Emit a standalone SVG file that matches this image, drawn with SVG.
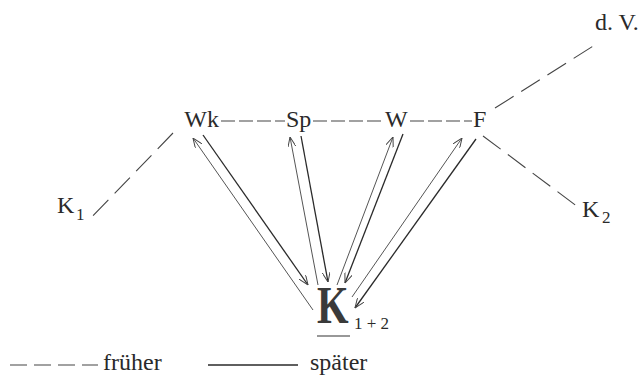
<svg xmlns="http://www.w3.org/2000/svg" width="643" height="376" viewBox="0 0 643 376">
<style>
text{font-family:"Liberation Serif","Times New Roman",serif;fill:#2a2a2a}
.lbl{font-size:24px}
.sub{font-size:17px}
.dash{stroke:#444;stroke-width:1.1;fill:none;stroke-dasharray:14 4}
.dashd{stroke:#444;stroke-width:1.1;fill:none;stroke-dasharray:22 9}
.sol{stroke:#2a2a2a;stroke-width:1.3;fill:none}
.thin{stroke:#555;stroke-width:1;fill:none}
</style>
<defs>
<marker id="ah" viewBox="0 0 10 8" refX="10" refY="4" markerWidth="10" markerHeight="8" markerUnits="userSpaceOnUse" orient="auto">
<path d="M0,0 L10,4 L0,8" fill="none" stroke="#444" stroke-width="1"/>
</marker>
</defs>
<rect width="643" height="376" fill="#ffffff"/>
<g id="connectors">
<line class="dash" x1="221" y1="121" x2="285" y2="121"/>
<line class="dash" x1="313" y1="121" x2="385" y2="121"/>
<line class="dash" x1="410" y1="121" x2="472" y2="121"/>
<line class="dashd" x1="495" y1="108" x2="598" y2="43"/>
<line class="dashd" x1="483" y1="136" x2="578" y2="207"/>
<line class="dashd" x1="173" y1="133" x2="87" y2="222"/>
<line class="thin" x1="313" y1="310" x2="193" y2="138" marker-end="url(#ah)"/>
<line class="sol" x1="203" y1="135" x2="308" y2="285" marker-end="url(#ah)"/>
<line class="thin" x1="318" y1="285" x2="290" y2="137" marker-end="url(#ah)"/>
<line class="sol" x1="301" y1="136" x2="328" y2="282" marker-end="url(#ah)"/>
<line class="thin" x1="337" y1="285" x2="393" y2="137" marker-end="url(#ah)"/>
<line class="sol" x1="403" y1="134" x2="345" y2="283" marker-end="url(#ah)"/>
<line class="thin" x1="352" y1="297" x2="462" y2="138" marker-end="url(#ah)"/>
<line class="sol" x1="476" y1="139" x2="355" y2="308" marker-end="url(#ah)"/>
</g>
<g id="node-Wk"><text class="lbl" x="219" y="127" text-anchor="end">Wk</text></g>
<g id="node-Sp"><text class="lbl" x="286" y="127">Sp</text></g>
<g id="node-W"><text class="lbl" x="385" y="127">W</text></g>
<g id="node-F"><text class="lbl" x="473" y="127">F</text></g>
<g id="node-dV"><text class="lbl" x="595" y="30">d. V.</text></g>
<g id="node-K1"><text class="lbl" x="57" y="213">K</text><text class="sub" x="76" y="220">1</text></g>
<g id="node-K2"><text class="lbl" x="582" y="217">K</text><text class="sub" x="602" y="223">2</text></g>
<g id="node-K12">
<text transform="translate(317,323) scale(0.78,1)" x="0" y="0" font-size="52" font-weight="bold" style="fill:#3a3a3a">K</text>
<text class="sub" x="354" y="329">1 + 2</text>
<line x1="317" y1="336" x2="350" y2="336" stroke="#333" stroke-width="1.2"/>
</g>
<g id="legend">
<line class="dash" x1="10" y1="365" x2="98" y2="365" style="stroke-dasharray:17 7"/>
<text class="lbl" x="103" y="370">früher</text>
<line class="sol" x1="208" y1="365" x2="298" y2="365"/>
<text class="lbl" x="310" y="370">später</text>
</g>
</svg>
